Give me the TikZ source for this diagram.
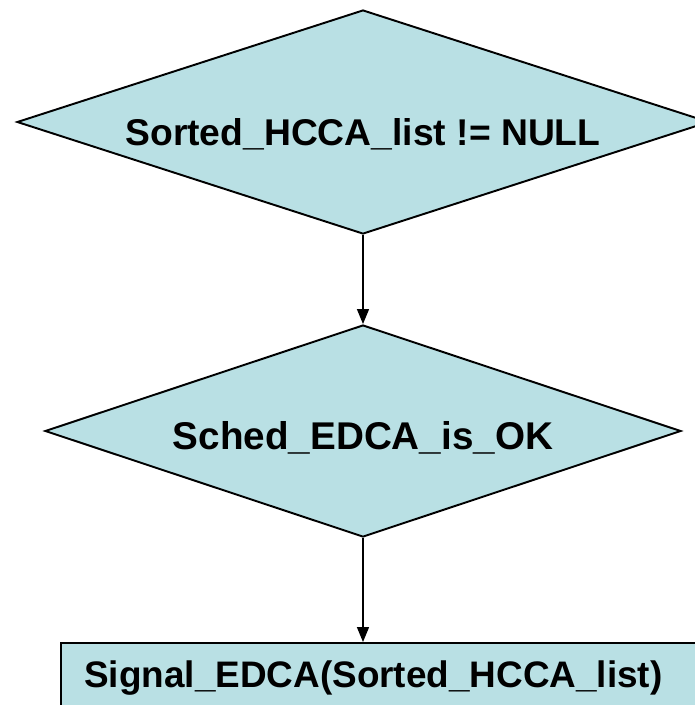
\documentclass[tikz,border=0pt]{standalone}
\usepackage{fontspec}
\setmainfont{Liberation Sans}
\usetikzlibrary{arrows.meta,shapes.geometric,positioning}

\definecolor{boxfill}{HTML}{B9E0E4}

\tikzset{
  dec/.style={shape=diamond,draw=black,fill=boxfill,line width=1.1pt,inner sep=0pt},
  act/.style={shape=rectangle,draw=black,fill=boxfill,line width=1.1pt,inner sep=0pt},
  lbl/.style={font=\fontsize{21.2}{26}\selectfont\bfseries,inner sep=0pt,anchor=base}
}

\begin{document}
\begin{tikzpicture}[node distance=6.18cm,>={Triangle[width=.24cm,length=.3cm]}]
\clip (-7.26,2.44) rectangle (6.64,-11.66);
\useasboundingbox (-7.26,2.44) rectangle (6.64,-11.66);
\node [dec,minimum width=13.84cm,minimum height=4.48cm] at (0,0) (d1) {};
\node [dec,minimum width=12.72cm,minimum height=4.24cm,below of=d1] (d2) {};
\node [act,minimum width=12.78cm,minimum height=1.54cm,below of=d2,yshift=1.17cm,xshift=.35cm] (box) {};
\node [lbl,yshift=-.46cm] at (d1.center) (t1) {Sorted\_HCCA\_list != NULL};
\node [lbl,font=\fontsize{22}{26}\selectfont\bfseries,yshift=-.36cm] at (d2.center) (t2) {Sched\_EDCA\_is\_OK};
\node [lbl,font=\fontsize{21}{26}\selectfont\bfseries,yshift=-.11cm,xshift=-.14cm] at (box.center) (t3) {Signal\_EDCA(Sorted\_HCCA\_list)};
\draw [->,line width=.8pt] (d1.south) -- (d2.north);
\draw [->,line width=.8pt] (d2.south) -- (d2.south |- box.north);

\end{tikzpicture}
\end{document}
